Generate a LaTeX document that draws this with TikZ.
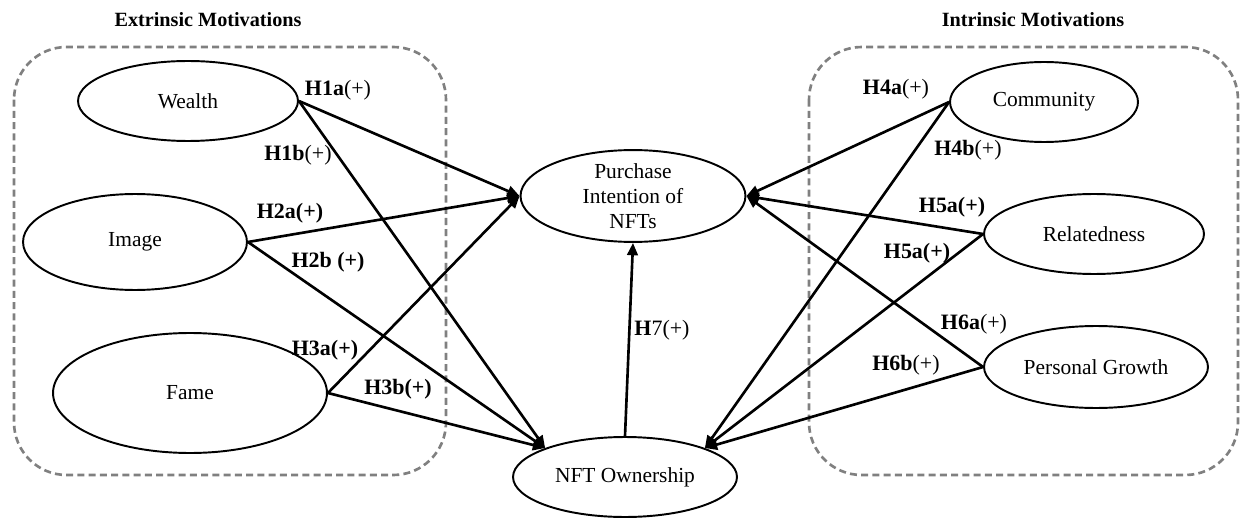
\documentclass[tikz,border=0pt]{standalone}
\usepackage{fontspec}
\setmainfont{Liberation Serif}
\usetikzlibrary{shapes.geometric,arrows.meta}
\begin{document}
\begin{tikzpicture}[x=0.02cm,y=-0.02cm,
  construct/.style={draw,ellipse,line width=1.1pt,inner sep=0pt,font=\fontsize{12.2}{14.2}\selectfont,align=center},
  group/.style={draw=black!50,dash pattern=on 4pt off 2.4pt,line width=1.5pt,rounded corners=30pt},
  path/.style={line width=1.5pt,-{Triangle[length=7pt,width=6pt]}},
  hyp/.style={font=\fontsize{12.5}{14}\selectfont\bfseries,inner sep=1pt},
  title/.style={font=\fontsize{11.5}{14}\selectfont\bfseries}]
\useasboundingbox (0,0) rectangle (1243,520);

% group frames and headings
\draw[group] (14,47) rectangle (446,475);
\draw[group] (809,47) rectangle (1238,475);
\node[title] (tExt) at (208,20) {Extrinsic Motivations};
\node[title] (tInt) at (1033,20) {Intrinsic Motivations};

% constructs
\node[construct,minimum width=4.4cm,minimum height=1.6cm] (wealth) at (188,101) {Wealth};
\node[construct,minimum width=4.48cm,minimum height=1.92cm] (image) at (135,242) {Image};
\node[construct,minimum width=5.48cm,minimum height=2.4cm] (fame) at (190,393) {Fame};
\node[construct,minimum width=4.5cm,minimum height=1.68cm] (pi) at (633,196) {Purchase\\Intention of\\NFTs};
\node[construct,minimum width=4.48cm,minimum height=1.6cm] (own) at (625,477) {NFT Ownership};
\node[construct,minimum width=3.76cm,minimum height=1.6cm] (comm) at (1044,102) {Community};
\node[construct,minimum width=4.4cm,minimum height=1.6cm] (rel) at (1094,234) {Relatedness};
\node[construct,minimum width=4.48cm,minimum height=1.64cm] (pg) at (1096,367) {Personal Growth};

% hypothesised paths
\draw[path] (wealth.east) -- (pi.west);
\draw[path] (wealth.east) -- (own.north west);
\draw[path] (image.east) -- (pi.west);
\draw[path] (image.east) -- (own.north west);
\draw[path] (fame.east) -- (pi.west);
\draw[path] (fame.east) -- (own.north west);
\draw[path] (comm.west) -- (pi.east);
\draw[path] (comm.west) -- (own.north east);
\draw[path] (rel.west) -- (pi.east);
\draw[path] (rel.west) -- (own.north east);
\draw[path] (pg.west) -- (pi.east);
\draw[path] (pg.west) -- (own.north east);
\draw[path] (own.north) -- (pi.south);

% hypothesis labels
\node[hyp] (h1a) at (338,90) {H1a\textmd{(+)}};
\node[hyp] (h1b) at (298,155) {H1b\textmd{(+)}};
\node[hyp] (h2a) at (290,213) {H2a(+)};
\node[hyp] (h2b) at (328,262) {H2b (+)};
\node[hyp] (h3a) at (325,350) {H3a(+)};
\node[hyp] (h3b) at (398,389) {H3b(+)};
\node[hyp] (h4a) at (896,89) {H4a\textmd{(+)}};
\node[hyp] (h4b) at (968,150) {H4b\textmd{(+)}};
\node[hyp] (h5a) at (952,207) {H5a(+)};
\node[hyp] (h5b) at (917,253) {H5a(+)};
\node[hyp] (h6a) at (974,324) {H6a\textmd{(+)}};
\node[hyp] (h6b) at (906,365) {H6b\textmd{(+)}};
\node[hyp] (h7) at (662,330) {H\textmd{7(+)}};
\end{tikzpicture}
\end{document}
